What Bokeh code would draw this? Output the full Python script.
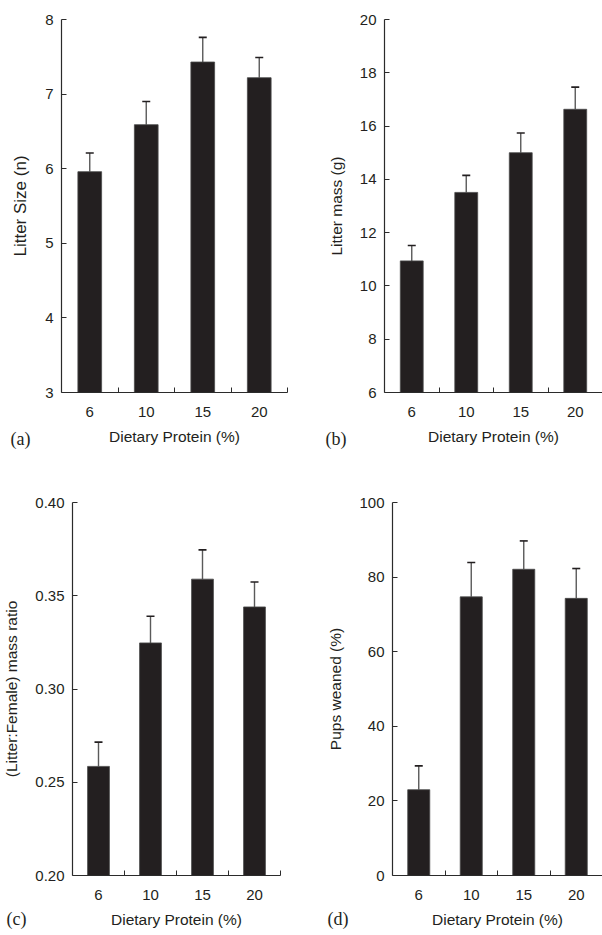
from bokeh.plotting import figure
from bokeh.layouts import column, row
from bokeh.models import (ColumnDataSource, FixedTicker, Range1d, Whisker, TeeHead,
                          Title, PrintfTickFormatter)
from bokeh.embed import file_html
from bokeh.resources import INLINE

# ---- data ----
doses = ["6", "10", "15", "20"]          # dietary protein (%)
litter_size = [5.96, 6.59, 7.43, 7.22]
litter_size_se = [0.25, 0.31, 0.33, 0.27]
litter_mass = [10.94, 13.51, 15.00, 16.63]
litter_mass_se = [0.58, 0.64, 0.74, 0.83]
mass_ratio = [0.2585, 0.3247, 0.3589, 0.3440]
mass_ratio_se = [0.0130, 0.0143, 0.0157, 0.0134]
pups_weaned = [23.0, 74.7, 82.1, 74.3]
pups_weaned_se = [6.4, 9.2, 7.6, 8.0]

SANS = "Liberation Sans"
SERIF = "Times New Roman, Liberation Serif, serif"
INK = "#231f20"
AXIS = "#2b2b2b"


def panel(vals, errs, ylabel, yticks, yrange, letter, width, height,
          bl, br, bt, bb, letter_off, letter_standoff, fmt=None,
          ylab_size="15.5px"):
    xs = [i + 0.5 for i in range(len(doses))]
    src = ColumnDataSource(dict(x=xs, top=vals,
                                upper=[v + e for v, e in zip(vals, errs)]))
    p = figure(width=width, height=height, output_backend="svg",
               toolbar_location=None, tools="",
               x_range=Range1d(0, len(doses)), y_range=Range1d(*yrange),
               min_border_left=bl, min_border_right=br,
               min_border_top=bt, min_border_bottom=bb)
    p.outline_line_color = None
    p.grid.visible = False
    p.background_fill_color = "white"
    p.border_fill_color = "white"

    wh = Whisker(source=src, base="x", lower="top", upper="upper",
                 line_color="#5a5a5a", line_width=1.4,
                 lower_head=None,
                 upper_head=TeeHead(size=8, line_color=INK, line_width=1.6))
    p.add_layout(wh)
    p.vbar(x="x", top="top", bottom=yrange[0], width=0.42, source=src,
           fill_color=INK, line_color="#4a4a4a", line_width=0.8)

    # y axis
    ya = p.yaxis[0]
    ya.ticker = FixedTicker(ticks=yticks, minor_ticks=[])
    if fmt:
        ya.formatter = PrintfTickFormatter(format=fmt)
    ya.major_tick_in = 5
    ya.major_tick_out = 0
    ya.minor_tick_line_color = None
    ya.axis_line_color = AXIS
    ya.major_tick_line_color = AXIS
    ya.axis_line_width = 1.2
    ya.major_label_text_font = SANS
    ya.major_label_text_font_size = "15px"
    ya.major_label_text_color = INK
    ya.major_label_standoff = 8
    ya.axis_label = ylabel
    ya.axis_label_text_font = SANS
    ya.axis_label_text_font_size = ylab_size
    ya.axis_label_text_font_style = "normal"
    ya.axis_label_text_color = INK
    ya.axis_label_standoff = 12

    # x axis
    xa = p.xaxis[0]
    xa.ticker = FixedTicker(ticks=xs, minor_ticks=[1, 2, 3, 4])
    xa.major_label_overrides = {x: d for x, d in zip(xs, doses)}
    xa.major_tick_line_color = None
    xa.major_tick_in = 0
    xa.major_tick_out = 0
    xa.minor_tick_in = 5
    xa.minor_tick_out = 0
    xa.minor_tick_line_color = AXIS
    xa.axis_line_color = AXIS
    xa.axis_line_width = 1.2
    xa.major_label_text_font = SANS
    xa.major_label_text_font_size = "15px"
    xa.major_label_text_color = INK
    xa.major_label_standoff = 14
    xa.axis_label = "Dietary Protein (%)"
    xa.axis_label_text_font = SANS
    xa.axis_label_text_font_size = "15.5px"
    xa.axis_label_text_font_style = "normal"
    xa.axis_label_text_color = INK
    xa.axis_label_standoff = 8

    # panel letter as a title below, pulled up level with the axis label
    p.add_layout(Title(text=letter, align="left", vertical_align="top",
                       offset=letter_off, standoff=letter_standoff,
                       text_font=SERIF, text_font_size="18px",
                       text_font_style="normal", text_color=INK), "below")
    return p


pa = panel(litter_size, litter_size_se, "Litter Size (n)", [3, 4, 5, 6, 7, 8],
           (3, 8), "(a)", 301, 467, 61, 14, 19, 75, -51, -38, ylab_size="17px")
pb = panel(litter_mass, litter_mass_se, "Litter mass (g)",
           [6, 8, 10, 12, 14, 16, 18, 20], (6, 20), "(b)", 301, 467,
           83, 0, 19, 75, -59, -38)
pc = panel(mass_ratio, mass_ratio_se, "(Litter:Female) mass ratio",
           [0.20, 0.25, 0.30, 0.35, 0.40], (0.20, 0.40), "(c)", 301, 468,
           71, 21, 35, 60, -66, -44, fmt="%.2f")
pd = panel(pups_weaned, pups_weaned_se, "Pups weaned (%)",
           [0, 20, 40, 60, 80, 100], (0, 100), "(d)", 301, 468,
           91, 0, 35, 60, -65, -44)

layout = column(row(pa, pb, spacing=0), row(pc, pd, spacing=0), spacing=0)
open("out.html", "w").write(file_html(layout, INLINE))
